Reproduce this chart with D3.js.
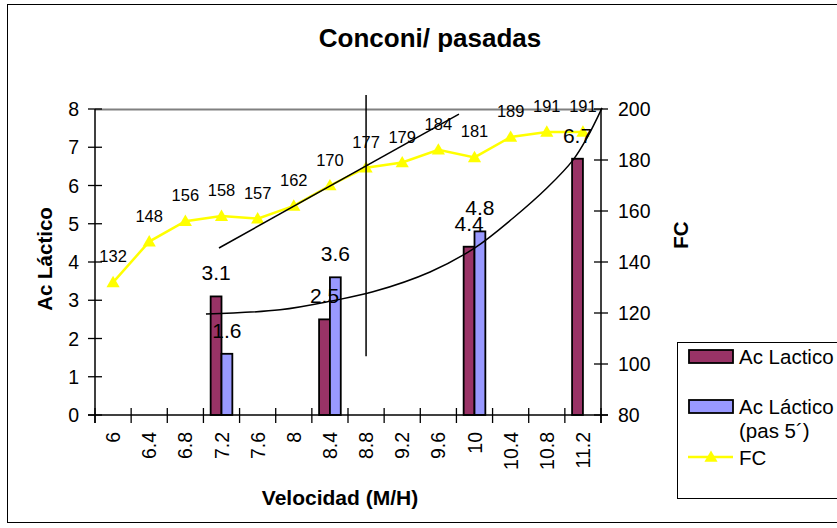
<!DOCTYPE html>
<html lang="es">
<head>
<meta charset="UTF-8" />
<title>Conconi/ pasadas</title>
<script src="https://d3js.org/d3.v7.min.js"></script>
<style>
    body {
        margin: 0;
        background: #fff;
        font-family: "Liberation Sans", Arial, sans-serif;
    }

    svg {
        display: block;
    }
</style>
</head>
<body>
<svg id="chart" width="837" height="528"></svg>
<script>
    // data
    const velocidades = ["6", "6.4", "6.8", "7.2", "7.6", "8", "8.4", "8.8", "9.2", "9.6", "10", "10.4", "10.8", "11.2"];
    const acLactico = [null, null, null, 3.1, null, null, 2.5, null, null, null, 4.4, null, null, 6.7];
    const acLacticoPas5 = [null, null, null, 1.6, null, null, 3.6, null, null, null, 4.8, null, null, null];
    const fc = [132, 148, 156, 158, 157, 162, 170, 177, 179, 184, 181, 189, 191, 191];
    const leftTicks = [0, 1, 2, 3, 4, 5, 6, 7, 8];
    const rightTicks = [80, 100, 120, 140, 160, 180, 200];

    // hand drawn lines: x in category units, y in axis units
    const rectaFC = [[3.43, 145.5], [10.07, 198]];        // right axis
    const verticalUmbral = [[7.5, 205.5], [7.5, 103]];    // right axis
    const curvaLactico = [[3.07, 2.64], [5.12, 2.75], [6.59, 2.99], [7.69, 3.22], [9.27, 3.74],
        [10.51, 4.37], [11.57, 5.15], [12.51, 5.94], [13.23, 6.67], [13.61, 7.24], [14.03, 8.03]]; // left axis

    const svg = d3.select("#chart");
    const plot = { left: 95, right: 601, top: 109, bottom: 415 };
    const font = '"Liberation Sans", Arial, sans-serif';

    // outer frame
    svg.append("rect")
        .attr("x", 7.5).attr("y", 4.5)
        .attr("width", 840).attr("height", 518)
        .attr("fill", "none").attr("stroke", "#000").attr("stroke-width", 1);

    const x = d3.scaleBand().domain(velocidades).range([plot.left, plot.right]).padding(0);
    const xc = d3.scaleLinear().domain([0, velocidades.length]).range([plot.left, plot.right]);
    const xSub = d3.scaleBand().domain(["a", "b"]).range([0, x.bandwidth()]).paddingInner(0).paddingOuter(2 / 3);
    const yL = d3.scaleLinear().domain([0, 8]).range([plot.bottom, plot.top]);
    const yR = d3.scaleLinear().domain([80, 200]).range([plot.bottom, plot.top]);

    // top border of plot area
    svg.append("line")
        .attr("x1", plot.left).attr("x2", plot.right)
        .attr("y1", plot.top + 0.5).attr("y2", plot.top + 0.5)
        .attr("stroke", "#808080").attr("stroke-width", 2);

    // bars
    const series = [
        { key: "a", values: acLactico, color: "#993366" },
        { key: "b", values: acLacticoPas5, color: "#9999FF" }
    ];
    series.forEach(s => {
        s.values.forEach((v, i) => {
            if (v == null) return;
            svg.append("rect")
                .attr("x", x(velocidades[i]) + xSub(s.key))
                .attr("y", yL(v))
                .attr("width", xSub.bandwidth())
                .attr("height", yL(0) - yL(v))
                .attr("fill", s.color)
                .attr("stroke", "#000")
                .attr("stroke-width", 1.8);
        });
    });

    // x axis
    const gx = svg.append("g");
    gx.append("line")
        .attr("x1", plot.left - 7).attr("x2", plot.right + 7)
        .attr("y1", plot.bottom).attr("y2", plot.bottom)
        .attr("stroke", "#000").attr("stroke-width", 1.5);
    d3.range(velocidades.length + 1).forEach(i => {
        gx.append("line")
            .attr("x1", xc(i)).attr("x2", xc(i))
            .attr("y1", plot.bottom - 7).attr("y2", plot.bottom + 8)
            .attr("stroke", "#000").attr("stroke-width", 1.3);
    });
    velocidades.forEach(v => {
        gx.append("text")
            .attr("transform", `translate(${x(v) + x.bandwidth() / 2 + 7},${plot.bottom + 17}) rotate(-90)`)
            .attr("text-anchor", "end")
            .attr("font-family", font)
            .attr("font-size", 19.5)
            .text(v);
    });

    // left axis
    const gl = svg.append("g");
    gl.append("line")
        .attr("x1", plot.left).attr("x2", plot.left)
        .attr("y1", plot.top).attr("y2", plot.bottom + 8)
        .attr("stroke", "#000").attr("stroke-width", 1.5);
    leftTicks.forEach(t => {
        gl.append("line")
            .attr("x1", plot.left - 7).attr("x2", plot.left + 7)
            .attr("y1", yL(t)).attr("y2", yL(t))
            .attr("stroke", "#000").attr("stroke-width", 1.3);
        gl.append("text")
            .attr("x", plot.left - 16).attr("y", yL(t) + 7)
            .attr("text-anchor", "end")
            .attr("font-family", font).attr("font-size", 19.5)
            .text(t);
    });

    // right axis
    const gr = svg.append("g");
    gr.append("line")
        .attr("x1", plot.right).attr("x2", plot.right)
        .attr("y1", plot.top).attr("y2", plot.bottom + 8)
        .attr("stroke", "#000").attr("stroke-width", 1.5);
    rightTicks.forEach(t => {
        gr.append("line")
            .attr("x1", plot.right - 7).attr("x2", plot.right + 7)
            .attr("y1", yR(t)).attr("y2", yR(t))
            .attr("stroke", "#000").attr("stroke-width", 1.3);
        gr.append("text")
            .attr("x", plot.right + 17).attr("y", yR(t) + 7)
            .attr("text-anchor", "start")
            .attr("font-family", font).attr("font-size", 19.5)
            .text(t);
    });

    // FC line
    const cx = i => x(velocidades[i]) + x.bandwidth() / 2;
    const triangle = d3.symbol().type(d3.symbolTriangle).size(75);
    svg.append("path")
        .datum(fc)
        .attr("fill", "none")
        .attr("stroke", "#FFFF00")
        .attr("stroke-width", 2.5)
        .attr("d", d3.line().x((d, i) => cx(i)).y(d => yR(d)));
    fc.forEach((v, i) => {
        svg.append("path")
            .attr("d", triangle())
            .attr("transform", `translate(${cx(i)},${yR(v) + 1})`)
            .attr("fill", "#FFFF00");
        svg.append("text")
            .attr("x", cx(i)).attr("y", yR(v) - 20)
            .attr("text-anchor", "middle")
            .attr("font-family", font).attr("font-size", 16.5)
            .text(v);
    });

    // bar labels
    series.forEach(s => {
        s.values.forEach((v, i) => {
            if (v == null) return;
            svg.append("text")
                .attr("x", x(velocidades[i]) + xSub(s.key) + xSub.bandwidth() / 2)
                .attr("y", yL(v) - 16)
                .attr("text-anchor", "middle")
                .attr("font-family", font).attr("font-size", 21)
                .text(v);
        });
    });

    // hand drawn lines
    svg.append("path")
        .attr("d", d3.line().x(d => xc(d[0])).y(d => yR(d[1]))(rectaFC))
        .attr("stroke", "#000").attr("stroke-width", 1.5).attr("fill", "none");
    svg.append("path")
        .attr("d", d3.line().x(d => xc(d[0])).y(d => yR(d[1]))(verticalUmbral))
        .attr("stroke", "#000").attr("stroke-width", 1.5).attr("fill", "none");
    svg.append("path")
        .attr("d", d3.line().curve(d3.curveCatmullRom).x(d => xc(d[0])).y(d => yL(d[1]))(curvaLactico))
        .attr("stroke", "#000").attr("stroke-width", 1.5).attr("fill", "none");

    // titles
    svg.append("text")
        .attr("x", 430).attr("y", 47)
        .attr("text-anchor", "middle")
        .attr("font-family", font).attr("font-size", 26).attr("font-weight", "bold")
        .text("Conconi/ pasadas");
    svg.append("text")
        .attr("transform", "translate(52,259) rotate(-90)")
        .attr("text-anchor", "middle")
        .attr("font-family", font).attr("font-size", 20.5).attr("font-weight", "bold")
        .text("Ac Láctico");
    svg.append("text")
        .attr("transform", "translate(688,235) rotate(-90)")
        .attr("text-anchor", "middle")
        .attr("font-family", font).attr("font-size", 20.5).attr("font-weight", "bold")
        .text("FC");
    svg.append("text")
        .attr("x", 340).attr("y", 505)
        .attr("text-anchor", "middle")
        .attr("font-family", font).attr("font-size", 21).attr("font-weight", "bold")
        .text("Velocidad (M/H)");

    // legend
    const lg = svg.append("g").attr("transform", "translate(677,342)");
    lg.append("rect")
        .attr("x", 0.5).attr("y", 0.5).attr("width", 200).attr("height", 156)
        .attr("fill", "#fff").attr("stroke", "#000").attr("stroke-width", 1);
    lg.append("rect")
        .attr("x", 12).attr("y", 8).attr("width", 44).attr("height", 13)
        .attr("fill", "#993366").attr("stroke", "#000").attr("stroke-width", 1.8);
    lg.append("text").attr("x", 62).attr("y", 22)
        .attr("font-family", font).attr("font-size", 20.5).text("Ac Lactico");
    lg.append("rect")
        .attr("x", 12).attr("y", 58).attr("width", 44).attr("height", 13)
        .attr("fill", "#9999FF").attr("stroke", "#000").attr("stroke-width", 1.8);
    lg.append("text").attr("x", 62).attr("y", 72)
        .attr("font-family", font).attr("font-size", 20.5).text("Ac Láctico");
    lg.append("text").attr("x", 62).attr("y", 96)
        .attr("font-family", font).attr("font-size", 20.5).text("(pas 5´)");
    lg.append("line")
        .attr("x1", 11).attr("x2", 56).attr("y1", 115).attr("y2", 115)
        .attr("stroke", "#FFFF00").attr("stroke-width", 2.5);
    lg.append("path")
        .attr("d", triangle())
        .attr("transform", "translate(34,116)")
        .attr("fill", "#FFFF00");
    lg.append("text").attr("x", 62).attr("y", 123)
        .attr("font-family", font).attr("font-size", 20.5).text("FC");
</script>
</body>
</html>
